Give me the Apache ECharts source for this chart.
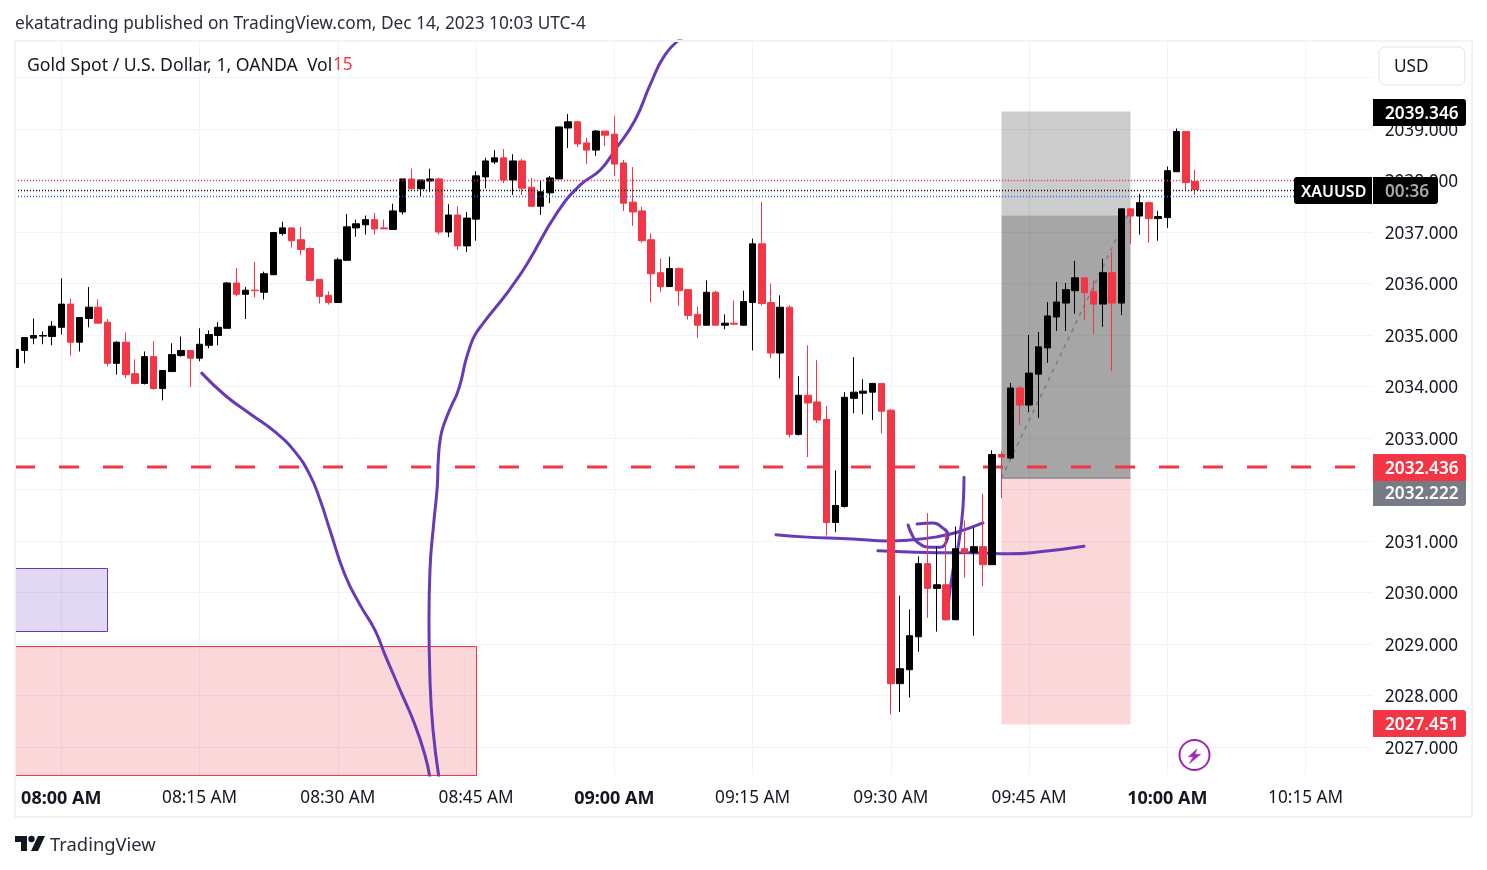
<!DOCTYPE html>
<html><head><meta charset="utf-8">
<style>html,body{margin:0;padding:0;background:#fff}#c{width:1487px;height:870px}</style>
<script src="https://cdn.jsdelivr.net/npm/echarts@6/dist/echarts.min.js"></script>
</head><body><div id="c"></div>
<script>
// Minutes since 08:00 of the first bar; bars run one per minute.
const firstBarMinute = -5;
const opens = [
2034.37,2034.70,2034.94,2034.98,2034.97,2035.15,2035.60,2034.86,2035.32,2035.54,
2035.25,2034.45,2034.86,2034.25,2034.06,2034.58,2033.96,2034.29,2034.60,2034.70,
2034.55,2034.80,2034.99,2035.13,2036.01,2035.79,2035.87,2035.83,2036.17,2036.97,
2037.08,2036.85,2036.68,2036.08,2035.77,2035.63,2036.45,2037.08,2037.14,2037.24,
2037.08,2037.05,2037.39,2038.03,2037.84,2037.99,2038.03,2037.00,2037.33,2036.73,
2037.25,2038.07,2038.36,2038.44,2038.01,2038.38,2037.87,2037.50,2037.76,2038.03,
2039.02,2039.14,2038.73,2038.59,2038.96,2038.90,2038.34,2037.58,2037.41,2036.85,
2036.21,2035.94,2036.29,2035.88,2035.40,2035.19,2035.83,2035.19,2035.23,2035.19,
2035.63,2036.77,2035.63,2034.65,2035.54,2033.07,2033.83,2033.70,2033.36,2031.36,
2031.67,2033.77,2033.87,2033.89,2034.06,2033.54,2028.23,2028.50,2029.14,2030.56,
2030.08,2030.15,2029.47,2030.85,2030.78,2030.89,2030.54,2032.68,2032.61,2033.97,
2033.64,2034.24,2034.75,2035.35,2035.62,2035.86,2036.11,2035.84,2035.60,2036.21,
2035.62,2037.45,2037.31,2037.57,2037.26,2037.28,2038.17,2038.95,2037.98];
const closes = [
2034.72,2034.95,2034.99,2034.99,2035.17,2035.60,2034.86,2035.34,2035.54,2035.23,
2034.45,2034.86,2034.23,2034.06,2034.58,2033.96,2034.31,2034.62,2034.70,2034.55,
2034.82,2035.01,2035.15,2036.01,2035.79,2035.87,2035.86,2036.19,2036.99,2037.08,
2036.83,2036.66,2036.06,2035.75,2035.63,2036.46,2037.10,2037.16,2037.24,2037.06,
2037.06,2037.41,2038.03,2037.84,2038.01,2038.03,2037.00,2037.33,2036.73,2037.27,
2038.09,2038.38,2038.44,2038.01,2038.38,2037.85,2037.50,2037.78,2038.05,2039.04,
2039.14,2038.71,2038.59,2038.96,2038.88,2038.32,2037.56,2037.39,2036.83,2036.19,
2035.94,2036.29,2035.86,2035.38,2035.19,2035.83,2035.19,2035.23,2035.21,2035.65,
2036.77,2035.61,2034.65,2035.54,2033.07,2033.83,2033.68,2033.35,2031.36,2031.69,
2033.79,2033.89,2033.91,2034.06,2033.52,2028.23,2028.52,2029.16,2030.56,2030.08,
2030.15,2029.47,2030.85,2030.78,2030.89,2030.54,2032.68,2032.63,2033.97,2033.64,
2034.26,2034.77,2035.37,2035.64,2035.88,2036.11,2035.82,2035.60,2036.21,2035.62,
2037.45,2037.31,2037.57,2037.26,2037.30,2038.19,2038.95,2037.96,2037.82];
const lows = [
2034.34,2034.45,2034.82,2034.82,2034.80,2035.01,2034.60,2034.68,2035.15,2035.23,
2034.39,2034.23,2034.16,2034.04,2034.04,2033.94,2033.73,2034.29,2034.58,2033.99,
2034.49,2034.74,2034.80,2035.13,2035.75,2035.31,2035.73,2035.69,2036.17,2036.93,
2036.70,2036.56,2036.06,2035.61,2035.59,2035.63,2036.45,2036.91,2036.95,2036.95,
2037.06,2037.05,2037.34,2037.84,2037.70,2037.78,2036.95,2036.90,2036.65,2036.61,
2036.83,2037.85,2038.32,2037.95,2037.72,2037.72,2037.50,2037.33,2037.56,2038.03,
2038.63,2038.65,2038.32,2038.48,2038.67,2038.09,2037.41,2037.12,2036.79,2035.63,
2035.83,2035.94,2035.57,2035.30,2034.94,2035.19,2035.19,2035.11,2035.19,2035.19,
2034.70,2035.57,2034.55,2034.16,2033.01,2033.05,2032.63,2033.29,2031.11,2031.17,
2031.65,2033.48,2033.46,2033.35,2033.09,2027.63,2027.68,2027.96,2028.85,2029.51,
2029.24,2029.45,2029.47,2030.29,2029.16,2030.12,2030.54,2031.83,2032.59,2033.25,
2033.50,2033.39,2034.46,2035.08,2035.08,2035.41,2035.29,2035.02,2035.16,2034.30,
2035.39,2036.77,2036.95,2036.79,2036.83,2037.08,2038.17,2037.82,2037.72];
const highs = [
2034.75,2034.95,2035.32,2035.07,2035.27,2036.10,2035.71,2035.34,2035.93,2035.69,
2035.31,2034.88,2035.05,2034.53,2034.68,2034.88,2034.31,2034.84,2034.97,2034.70,
2035.13,2035.09,2035.25,2036.03,2036.30,2035.93,2036.42,2036.23,2037.00,2037.20,
2037.08,2037.10,2036.70,2036.08,2035.85,2036.50,2037.35,2037.24,2037.32,2037.37,
2037.24,2037.55,2038.03,2038.23,2038.01,2038.23,2038.05,2037.54,2037.50,2037.39,
2038.18,2038.44,2038.59,2038.61,2038.51,2038.42,2038.05,2037.99,2038.09,2039.04,
2039.29,2039.16,2038.83,2038.98,2038.96,2039.25,2038.40,2038.26,2037.49,2036.97,
2036.48,2036.52,2036.31,2035.88,2035.55,2036.06,2035.86,2035.40,2035.67,2035.86,
2036.87,2037.59,2036.00,2035.77,2035.58,2034.20,2034.80,2034.51,2033.62,2032.37,
2033.89,2034.57,2034.14,2034.06,2034.06,2033.56,2029.94,2029.67,2030.70,2031.54,
2030.89,2031.17,2031.28,2031.40,2031.26,2031.92,2032.76,2032.74,2034.07,2034.01,
2035.00,2035.06,2035.64,2036.03,2036.01,2036.44,2036.11,2036.07,2036.48,2036.61,
2037.45,2037.45,2037.74,2037.59,2037.41,2038.27,2039.01,2038.95,2038.21];

const timeTicks = [0,15,30,45,60,75,90,105,120,135];
const timeLabels = ['08:00 AM','08:15 AM','08:30 AM','08:45 AM','09:00 AM','09:15 AM','09:30 AM','09:45 AM','10:00 AM','10:15 AM'];
const boldTimeTicks = [0,60,120];
const priceGrid = [2027,2028,2029,2030,2031,2032,2033,2034,2035,2036,2037,2038,2039,2040];
const priceLabels = [2027,2028,2029,2030,2031,2032,2033,2034,2035,2036,2037,2038,2039];

const entryPrice = 2032.436, stopTop = 2039.346, fillPrice = 2037.33, basePrice = 2032.222, targetBottom = 2027.451;
const highDotted = 2038.000, lastDotted = 2037.806, bidDotted = 2037.69;

// Drawn freehand curves: [minute, price]
const curveA = [[15.24,2034.26],[17.76,2033.83],[20.47,2033.47],[23.19,2033.12],[25.36,2032.73],[26.98,2032.28],[28.07,2031.80],[29.15,2031.21],[30.78,2030.34],[32.41,2029.76],[34.03,2029.27],[35.12,2028.79],[36.75,2028.11],[38.37,2027.43],[39.46,2026.84],[40.0,2026.40]];
const curveB = [[40.98,2026.40],[40.33,2027.33],[40.0,2028.30],[39.89,2029.47],[40.0,2030.44],[40.44,2031.41],[40.79,2032.05],[40.9,2032.57],[41.16,2033.03],[41.63,2033.32],[42.36,2033.64],[42.96,2033.87],[43.44,2034.16],[43.8,2034.45],[44.34,2034.77],[44.88,2035.00],[45.78,2035.23],[47.78,2035.68],[48.68,2035.89],[50.53,2036.38],[53.78,2037.37],[56.28,2037.91],[58.45,2038.20],[60.07,2038.59],[62.24,2039.17],[63.87,2039.85],[65.5,2040.44],[67.34,2040.77]];
const curveC = [[77.54,2031.12],[80.47,2031.08],[85.9,2031.04],[89.59,2031.00],[92.08,2031.02],[95.01,2031.08],[97.18,2031.17],[100.0,2031.35]];
const curveD = [[88.6,2030.81],[91.32,2030.79],[95.01,2030.77],[98.59,2030.77],[102.93,2030.75],[106.18,2030.79],[110.96,2030.90]];
const curveE = [[91.87,2031.31],[92.3,2031.12],[92.85,2030.98],[94.26,2030.88],[95.34,2030.88],[96.1,2031.02],[96.2,2031.12],[95.66,2031.25],[94.57,2031.35],[92.85,2031.33]];
const curveF = [[97.94,2032.24],[97.83,2031.66],[97.29,2030.88],[96.75,2030.44],[96.2,2029.72]];
const trendPath = [[102,2032.222],[115.7,2037.33],[116.1,2037.12]];

const xMin = -5.023, xMax = 142.28, yMin = 2026.456, yMax = 2040.709;
// Zones: [startMinute, endMinute, topPrice, bottomPrice]
const zones = [
  [xMin,5,2030.476,2029.25],
  [xMin,45,2028.96,yMin],
  [102,116,stopTop,fillPrice],
  [102,116,fillPrice,basePrice],
  [102,116,basePrice,targetBottom]
];
const zoneStyles = [
  {fill:'rgba(103,58,183,0.2)',stroke:'#673ab7',lineWidth:1},
  {fill:'rgba(242,54,69,0.2)',stroke:'#f23645',lineWidth:1},
  {fill:'rgba(0,0,0,0.2)',stroke:null,lineWidth:0},
  {fill:'rgba(0,0,0,0.35)',stroke:null,lineWidth:0},
  {fill:'rgba(242,54,69,0.2)',stroke:null,lineWidth:0}
];

const RED='#f23645', PURPLE='#673ab7', GRID='#f0f3fa', INK='#131722';
const FONT='"Noto Sans", sans-serif';
const FS=17.2;
const barRows = opens.map((o,k)=>[firstBarMinute+k,o,closes[k],lows[k],highs[k]]);

function curve(d){return {type:'line',data:d,smooth:0.5,showSymbol:false,silent:true,z:3,lineStyle:{color:PURPLE,width:3,cap:'round',join:'round'}};}
function hline(p,color,type,width,z){return {type:'line',data:[[xMin,p],[xMax,p]],showSymbol:false,silent:true,z:z,lineStyle:{color:color,type:type,width:width}};}
function txt(x,y,s,fill,size,weight,z){return {type:'text',x:x,y:y,z:z||100,silent:true,style:{text:s,fill:fill,font:(weight||'normal')+' '+size+'px '+FONT,textVerticalAlign:'middle',textAlign:'left'}};}
function box(x,y,w,h,fill,r,z){return {type:'rect',z:z||99,silent:true,shape:{x:x,y:y,width:w,height:h,r:r||0},style:{fill:fill}};}

const chart = echarts.init(document.getElementById('c'),null,{renderer:'canvas'});
chart.setOption({
  animation:false,
  backgroundColor:'#fff',
  grid:{left:15,top:41,width:1357.7,height:734,containLabel:false},
  xAxis:{type:'value',min:xMin,max:xMax,
    axisLine:{show:false},
    axisTick:{show:false,customValues:timeTicks},
    splitLine:{show:true,lineStyle:{color:GRID,width:1}},
    axisLabel:{customValues:timeTicks,margin:14.5,color:INK,fontFamily:FONT,fontSize:FS,
      formatter:v=>{const s=timeLabels[timeTicks.indexOf(v)];return boldTimeTicks.includes(v)?'{b|'+s+'}':s;},
      rich:{b:{fontWeight:'bold',fontSize:18,fontFamily:FONT,color:INK}}}},
  yAxis:{type:'value',position:'right',min:yMin,max:yMax,
    axisLine:{show:false},
    axisTick:{show:false,customValues:priceGrid},
    splitLine:{show:true,lineStyle:{color:GRID,width:1}},
    axisLabel:{customValues:priceLabels,margin:12,color:INK,fontFamily:FONT,fontSize:FS,verticalAlign:'top',lineHeight:4,
      formatter:v=>v.toFixed(3)}},
  series:[
    {type:'custom',z:1,silent:true,data:zones,encode:{x:[0,1],y:[2,3]},
      renderItem:(params,api)=>{
        const a=api.coord([api.value(0),api.value(2)]),b=api.coord([api.value(1),api.value(3)]);
        const st=zoneStyles[params.dataIndex];
        const x0=Math.round(a[0])+0.5,y0=Math.round(a[1])+0.5,x1=Math.round(b[0])+0.5,y1=Math.round(b[1])+0.5;
        return {type:'rect',shape:{x:x0,y:y0,width:x1-x0,height:y1-y0},
          style:{fill:st.fill,stroke:st.stroke,lineWidth:st.lineWidth}};
      }},
    hline(entryPrice,RED,[20,24],3,2),
    {type:'line',data:[[102,basePrice],[116,basePrice]],showSymbol:false,silent:true,z:2,lineStyle:{color:'#787b86',width:1}},
    {type:'line',data:trendPath,showSymbol:false,silent:true,z:2,lineStyle:{color:'#787b86',width:1.5,type:[4,5]}},
    curve(curveA),curve(curveB),curve(curveC),curve(curveD),curve(curveE),curve(curveF),
    {type:'candlestick',z:5,silent:true,barWidth:7,data:barRows,
      itemStyle:{color:'#000000',color0:RED,borderColor:'#000000',borderColor0:RED,borderWidth:1}},
    hline(highDotted,RED,[1,2],1.4,6),
    hline(lastDotted,'#000000',[1,2],1.4,6),
    hline(bidDotted,'#2962ff',[1,2],1.4,6)
  ],
  graphic:{elements:[
    {type:'rect',z:89,silent:true,shape:{x:0,y:41,width:15,height:776},style:{fill:'#fff'}},
    {type:'rect',z:90,silent:true,shape:{x:15,y:41,width:1457,height:776},style:{fill:'none',stroke:GRID,lineWidth:2}},
    txt(15,24,'ekatatrading published on TradingView.com, Dec 14, 2023 10:03 UTC-4','#2a2e39',17.3),
    txt(27,65.5,'Gold Spot / U.S. Dollar, 1, OANDA  Vol',INK,17.65),
    txt(333,65.5,'15',RED,FS),
    {type:'rect',z:99,silent:true,shape:{x:1379,y:47,width:86,height:38,r:6},style:{fill:'#fff',stroke:'#e0e3eb',lineWidth:1}},
    txt(1394,67,'USD',INK,FS),
    box(1373,99,93,27,'#000',[0,3,3,0]),
    txt(1385,114,'2039.346','#fff',FS,'600'),
    box(1294,177,78,27,'#000',[3,0,0,3]),
    box(1373,177,65,27,'#000',[0,3,3,0]),
    txt(1301,192,'XAUUSD','#fff',16,'600'),
    txt(1385,192,'00:36','#a8a8a8',FS,'600'),
    box(1373,454,93,27,RED,[0,3,0,0]),
    txt(1385,469,'2032.436','#fff',FS,'600'),
    box(1373,481,93,25,'#787b86',[0,0,3,0]),
    txt(1385,494,'2032.222','#fff',FS,'600'),
    box(1373,710,93,27,RED,[0,3,3,0]),
    txt(1385,725,'2027.451','#fff',FS,'600'),
    {type:'circle',z:99,silent:true,shape:{cx:1194.5,cy:755,r:15},style:{fill:'#fff',stroke:'#9c27b0',lineWidth:2}},
    {type:'polygon',z:100,silent:true,shape:{points:[[1197,749],[1188.3,756.7],[1193.3,756.7],[1189.3,763.5],[1200.7,754.3],[1195,754.3]]},style:{fill:'#9c27b0',stroke:'#9c27b0',lineWidth:0.5}},
    {type:'polygon',z:100,silent:true,shape:{points:[[15,836],[27,836],[27,851],[21,851],[21,842],[15,842]]},style:{fill:INK}},
    {type:'circle',z:100,silent:true,shape:{cx:31.5,cy:839,r:3.2},style:{fill:INK}},
    {type:'polygon',z:100,silent:true,shape:{points:[[38,836],[45,836],[38,851],[31,851]]},style:{fill:INK}},
    txt(50,845.5,'TradingView','#2a2e39',18.4)
  ]}
});
</script></body></html>
